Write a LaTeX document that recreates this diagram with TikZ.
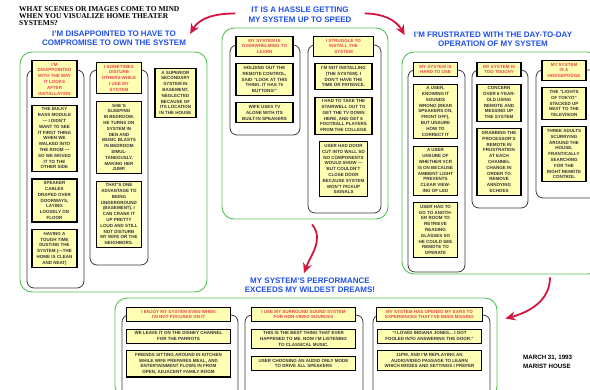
\documentclass[tikz,border=0pt]{standalone}
\usepackage{fontspec}
\setmainfont{Liberation Sans}
\newfontfamily\questionfont{Liberation Serif}
\usepackage{tikz}
\usetikzlibrary{positioning, arrows.meta}
\usepackage{xcolor}

\definecolor{cardyellow}{HTML}{FFFFB3}
\definecolor{cardtext}{HTML}{333333}
\definecolor{headred}{HTML}{E8434F}
\definecolor{titleblue}{HTML}{1F4FE8}
\definecolor{groupgreen}{HTML}{55C055}
\definecolor{framegray}{HTML}{3A3A3A}
\definecolor{linkred}{HTML}{D3163F}

\begin{document}
\begin{tikzpicture}[x=1pt, y=-1pt, node distance=6.5pt,
    group/.style={draw=groupgreen, line width=0.9pt, rounded corners=12pt, inner sep=0pt},
    frame/.style={draw=framegray, line width=0.8pt, rounded corners=7pt},
    card/.style={draw=black, line width=1.1pt, fill=cardyellow, text=cardtext, align=center,
        inner xsep=1pt, inner ysep=2.5pt, font=\bfseries\fontsize{4.5}{5.8}\selectfont},
    head/.style={card, text=headred},
    title/.style={text=titleblue, align=center, inner sep=0pt, font=\bfseries\fontsize{8}{9.5}\selectfont},
    link/.style={draw=linkred, line width=1.8pt, -{Stealth[length=10pt, width=9pt]}}]
    \useasboundingbox (0,0) rectangle (590,389);

    % clusters
    \node[group, minimum width=187pt, minimum height=240pt] (compGrp) at (113.5,172) {};
    \node[group, minimum width=166pt, minimum height=191pt] (hassleGrp) at (305,123.5) {};
    \node[group, minimum width=198pt, minimum height=222pt] (frusGrp) at (501,163) {};
    \node[group, minimum width=382pt, minimum height=100pt] (perfGrp) at (306,348) {};

    \draw[frame] (27,70) rectangle (84,288);
    \draw[frame] (90,70) rectangle (148,265);
    \draw[frame] (230,45) rectangle (300,135);
    \draw[frame] (308,45) rectangle (381,213);
    \draw[frame] (408,70) rectangle (465,272);
    \draw[frame] (472,70) rectangle (528,208);
    \draw[frame] (536,70) rectangle (600,198);
    \draw[frame] (122,315) rectangle (238,400);
    \draw[frame] (245,315) rectangle (363,400);
    \draw[frame] (373,315) rectangle (490,400);

    % titles
    \node[anchor=north west, inner sep=0pt, align=left, font=\questionfont\bfseries\fontsize{7.5}{7}\selectfont] (question) at (19,6.5)
        {WHAT SCENES OR IMAGES COME TO MIND\\WHEN YOU VISUALIZE HOME THEATER\\SYSTEMS?};
    \node[title] (compTitle) at (114,38) {I'M DISAPPOINTED TO HAVE TO\\COMPROMISE TO OWN THE SYSTEM};
    \node[title] (hassleTitle) at (300,14.5) {IT IS A HASSLE GETTING\\MY SYSTEM UP TO SPEED};
    \node[title] (frusTitle) at (493,39) {I'M FRUSTRATED WITH THE DAY-TO-DAY\\OPERATION OF MY SYSTEM};
    \node[title] (perfTitle) at (310,285) {MY SYSTEM'S PERFORMANCE\\EXCEEDS MY WILDEST DREAMS!};
    \node[anchor=north west, inner sep=0pt, align=left, font=\bfseries\fontsize{6.2}{8.5}\selectfont] (dateNote) at (523,355)
        {MARCH 31, 1993\\MARIST HOUSE};

    % I'm disappointed
    \begin{scope}[every node/.append style={minimum width=45pt}]
    \node[head, anchor=north] (lookHead) at (54.5,60) {I'M\\DISAPPOINTED\\WITH THE WAY\\IT LOOKS\\AFTER\\INSTALLATION};
    \node[card, below=of lookHead] (bassCard) {THE BULKY\\BASS MODULE\\--- I DIDN'T\\WANT TO SEE\\IT FIRST THING\\WHEN WE\\WALKED INTO\\THE ROOM ---\\SO WE MOVED\\IT TO THE\\OTHER SIDE};
    \node[card, below=of bassCard] (cableCard) {SPEAKER\\CABLES\\DRAPED OVER\\DOORWAYS,\\LAYING\\LOOSELY ON\\FLOOR};
    \node[card, below=of cableCard] (dustCard) {HAVING A\\TOUGH TIME\\DUSTING THE\\SYSTEM (---THE\\HOME IS CLEAN\\AND NEAT)};

    \node[head, anchor=north] (disturbHead) at (119,62) {I SOMETIMES\\DISTURB\\OTHERS WHILE\\I USE MY\\SYSTEM};
    \node[card, below=of disturbHead] (sleepCard) {SHE'S\\SLEEPING\\IN BEDROOM.\\HE TURNS ON\\SYSTEM IN\\DEN AND\\MUSIC BLASTS\\IN BEDROOM\\SIMUL-\\TANEOUSLY,\\MAKING HER\\JUMP.};
    \node[card, below=of sleepCard] (basementCard) {THAT'S ONE\\ADVANTAGE TO\\BEING\\UNDERGROUND\\(BASEMENT). I\\CAN CRANK IT\\UP PRETTY\\LOUD AND STILL\\NOT DISTURB\\MY WIFE OR THE\\NEIGHBORS.};
    \end{scope}
    \node[card, anchor=north, minimum width=41pt] (superiorCard) at (175.5,68) {A SUPERIOR\\SECONDARY\\SYSTEM IN\\BASEMENT,\\NEGLECTED\\BECAUSE OF\\ITS LOCATION\\IN THE HOUSE};

    % it is a hassle
    \begin{scope}[every node/.append style={minimum width=57pt}]
    \node[head, anchor=north] (learnHead) at (264.5,36) {MY SYSTEM IS\\OVERWHELMING TO\\LEARN};
    \node[card, below=of learnHead] (remoteCard) {HOLDING OUT THE\\REMOTE CONTROL,\\SAID ``LOOK AT THIS\\THING. IT HAS 75\\BUTTONS!''};
    \node[card, below=of remoteCard] (tvCard) {WIFE USES TV\\ALONE WITH ITS\\BUILT-IN SPEAKERS};

    \node[head, anchor=north, minimum width=60pt] (installHead) at (343.5,36) {I STRUGGLE TO\\INSTALL THE\\SYSTEM};
    \node[card, below=of installHead] (patienceCard) {I'M NOT INSTALLING\\(THE SYSTEM). I\\DON'T HAVE THE\\TIME OR PATIENCE.};
    \node[card, below=of patienceCard] (stairCard) {I HAD TO TAKE THE\\STAIRWELL OUT TO\\GET THE TV DOWN\\HERE, AND GET 6\\FOOTBALL PLAYERS\\FROM THE COLLEGE};
    \node[card, below=of stairCard, minimum width=48pt] (doorCard) {USER HAD DOOR\\CUT INTO WALL SO\\NO COMPONENTS\\WOULD SHOW ---\\BUT COULDN'T\\CLOSE DOOR\\BECAUSE SYSTEM\\WON'T PICKUP\\SIGNALS};
    \end{scope}

    % I'm frustrated
    \begin{scope}[every node/.append style={minimum width=44pt}]
    \node[head, anchor=north] (hardHead) at (435.5,62) {MY SYSTEM IS\\HARD TO USE};
    \node[card, below=of hardHead] (rearCard) {A USER,\\KNOWING IT\\SOUNDS\\WRONG (REAR\\SPEAKERS ON,\\FRONT OFF),\\BUT UNSURE\\HOW TO\\CORRECT IT};
    \node[card, below=of rearCard] (vcrCard) {A USER\\UNSURE OF\\WHETHER VCR\\IS ON BECAUSE\\AMBIENT LIGHT\\PREVENTS\\CLEAR VIEW-\\ING OF LED};
    \node[card, below=of vcrCard] (glassesCard) {USER HAD TO\\GO TO ANOTH-\\ER ROOM TO\\RETRIEVE\\READING\\GLASSES SO\\HE COULD SEE\\REMOTE TO\\OPERATE};

    \node[head, anchor=north] (touchyHead) at (499,62) {MY SYSTEM IS\\TOO TOUCHY};
    \node[card, below=of touchyHead] (kidCard) {CONCERN\\OVER 6-YEAR-\\OLD USING\\REMOTE AND\\MESSING UP\\THE SYSTEM};
    \node[card, below=of kidCard] (echoCard) {GRABBING THE\\PROCESSOR'S\\REMOTE IN\\FRUSTRATION\\AT EACH\\CHANNEL\\CHANGE IN\\ORDER TO\\REMOVE\\ANNOYING\\ECHOES};

    \node[head, anchor=north] (hodgeHead) at (564,60) {MY SYSTEM\\IS A\\HODGEPODGE};
    \node[card, below=of hodgeHead] (tokyoCard) {THE ``LIGHTS\\OF TOKYO''\\STACKED UP\\NEXT TO THE\\TELEVISION};
    \node[card, below=of tokyoCard] (searchCard) {THREE ADULTS\\SCURRYING\\AROUND THE\\HOUSE,\\FRANTICALLY\\SEARCHING\\FOR THE\\RIGHT REMOTE\\CONTROL};
    \end{scope}

    % performance exceeds
    \begin{scope}[every node/.append style={minimum width=104pt}]
    \node[head, anchor=north] (focusHead) at (178.5,307) {I ENJOY MY SYSTEM EVEN WHEN\\I'M NOT FOCUSED ON IT};
    \node[card, below=of focusHead] (parrotCard) {WE LEAVE IT ON THE DISNEY CHANNEL\\FOR THE PARROTS};
    \node[card, below=of parrotCard] (kitchenCard) {FRIENDS SITTING AROUND IN KITCHEN\\WHILE WIFE PREPARES MEAL, AND\\ENTERTAINMENT FLOWS IN FROM\\OPEN, ADJACENT FAMILY ROOM};

    \node[head, anchor=north] (audioHead) at (303.5,307) {I USE MY SURROUND SOUND SYSTEM\\FOR NON-VIDEO SOURCES};
    \node[card, below=of audioHead] (classicalCard) {THIS IS THE BEST THING THAT EVER\\HAPPENED TO ME. NOW I'M LISTENING\\TO CLASSICAL MUSIC.};
    \node[card, below=of classicalCard] (speakersCard) {USER CHOOSING AN AUDIO ONLY MODE\\TO DRIVE ALL SPEAKERS};

    \node[head, anchor=north, minimum width=106pt] (earsHead) at (429.5,307) {MY SYSTEM HAS OPENED MY EARS TO\\EXPERIENCES THAT I'VE BEEN MISSING};
    \node[card, below=of earsHead] (indianaCard) {``I LOVED INDIANA JONES... I GOT\\FOOLED INTO ANSWERING THE DOOR.''};
    \node[card, below=of indianaCard] (passageCard) {11PM, AND I'M REPLAYING AN\\AUDIO/VIDEO PASSAGE TO LEARN\\WHICH MODES AND SETTINGS I PREFER};
    \end{scope}

    % links between clusters
    \draw[link] ([xshift=-13pt, yshift=1pt]hassleTitle.west) to[out=180, in=60] ([xshift=4pt, yshift=4pt]compTitle.east);
    \draw[link] ([xshift=13pt, yshift=1pt]hassleTitle.east) to[out=0, in=120] ([xshift=-9pt, yshift=4pt]frusTitle.west);
    \draw[link] ([xshift=7pt, yshift=-5pt]hassleGrp.south) to[out=-50, in=70] ([xshift=-6pt, yshift=4pt]perfTitle.north);
    \draw[link] ([xshift=49pt, yshift=-3pt]frusGrp.south) to[out=-90, in=15] ([xshift=8pt, yshift=-21pt]perfGrp.north east);
\end{tikzpicture}
\end{document}
